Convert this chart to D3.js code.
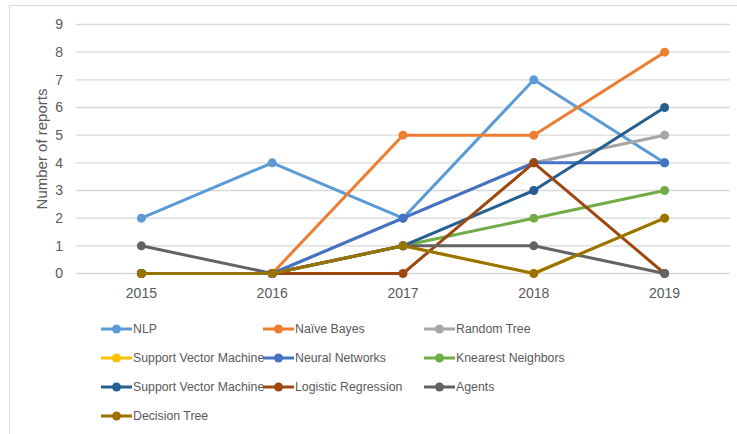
<!DOCTYPE html>
<html>
<head>
<meta charset="utf-8">
<script src="https://cdn.jsdelivr.net/npm/d3@7"></script>
<style>
  body { margin: 0; background: #fff; }
  text { font-family: "Liberation Sans", Arial, sans-serif; fill: #595959; }
</style>
</head>
<body>
<script>
// years on the x axis
const years = ["2015", "2016", "2017", "2018", "2019"];
const yTicks = [0, 1, 2, 3, 4, 5, 6, 7, 8, 9];

// one array per method
const nlp = [2, 4, 2, 7, 4];
const naiveBayes = [0, 0, 5, 5, 8];
const randomTree = [0, 0, 2, 4, 5];
const svm1 = [0, 0, 1, 0, 2];
const neuralNets = [0, 0, 2, 4, 4];
const knn = [0, 0, 1, 2, 3];
const svm2 = [0, 0, 1, 3, 6];
const logReg = [0, 0, 0, 4, 0];
const agents = [1, 0, 1, 1, 0];
const decisionTree = [0, 0, 1, 0, 2];

const names = ["NLP", "Naïve Bayes", "Random Tree", "Support Vector Machine", "Neural Networks",
  "Knearest Neighbors", "Support Vector Machine", "Logistic Regression", "Agents", "Decision Tree"];
const colors = ["#5B9BD5", "#ED7D31", "#A5A5A5", "#FFC000", "#4472C4",
  "#70AD47", "#255E91", "#9E480E", "#636363", "#997300"];
const seriesVals = [nlp, naiveBayes, randomTree, svm1, neuralNets, knn, svm2, logReg, agents, decisionTree];

const series = names.map((n, i) => ({ name: n, color: colors[i], values: seriesVals[i] }));

const W = 737, H = 434;
const svg = d3.select("body").append("svg").attr("width", W).attr("height", H);

// chart frame
svg.append("rect").attr("x", 9.5).attr("y", 5.5).attr("width", 740).attr("height", 440)
  .attr("fill", "none").attr("stroke", "#d9d9d9");

const x = d3.scaleBand().domain(years).range([76, 730]);
const y = d3.scaleLinear().domain([0, 9]).range([273.5, 24.5]);

// gridlines
svg.append("g").selectAll("line").data(yTicks).join("line")
  .attr("x1", 76).attr("x2", 730)
  .attr("y1", d => y(d)).attr("y2", d => y(d))
  .attr("stroke", "#d9d9d9").attr("stroke-width", 1.3);

// y axis labels
svg.append("g").selectAll("text").data(yTicks).join("text")
  .attr("x", 63).attr("y", d => y(d)).attr("dy", "0.35em")
  .attr("text-anchor", "end").style("font-size", "14px").text(d => d);

// x axis labels
svg.append("g").selectAll("text").data(years).join("text")
  .attr("x", d => x(d) + x.bandwidth() / 2).attr("y", 298)
  .attr("text-anchor", "middle").style("font-size", "14px").text(d => d);

svg.append("text")
  .attr("transform", "translate(47,149) rotate(-90)")
  .attr("text-anchor", "middle").style("font-size", "15px")
  .text("Number of reports");

const cx = d => x(d) + x.bandwidth() / 2;
const line = d3.line().x((d, i) => cx(years[i])).y(d => y(d));

const g = svg.append("g").selectAll("g").data(series).join("g");
g.append("path")
  .attr("d", d => line(d.values))
  .attr("fill", "none").attr("stroke", d => d.color)
  .attr("stroke-width", 3).attr("stroke-linejoin", "round");
g.selectAll("circle").data(d => d.values.map((v, i) => ({ v, i, c: d.color }))).join("circle")
  .attr("cx", d => cx(years[d.i])).attr("cy", d => y(d.v)).attr("r", 4.5)
  .attr("fill", d => d.c);

// legend, three columns
const colX = [101, 263, 424];
const legend = svg.append("g").selectAll("g").data(series).join("g")
  .attr("transform", (d, i) => `translate(${colX[i % 3]},${329 + Math.floor(i / 3) * 29})`);
legend.append("line").attr("x1", 0).attr("x2", 31).attr("y1", 0).attr("y2", 0)
  .attr("stroke", d => d.color).attr("stroke-width", 3);
legend.append("circle").attr("cx", 15.5).attr("cy", 0).attr("r", 4.5).attr("fill", d => d.color);
legend.append("text").attr("x", 32).attr("y", 0).attr("dy", "0.35em")
  .style("font-size", "12.3px").text(d => d.name);
</script>
</body>
</html>
